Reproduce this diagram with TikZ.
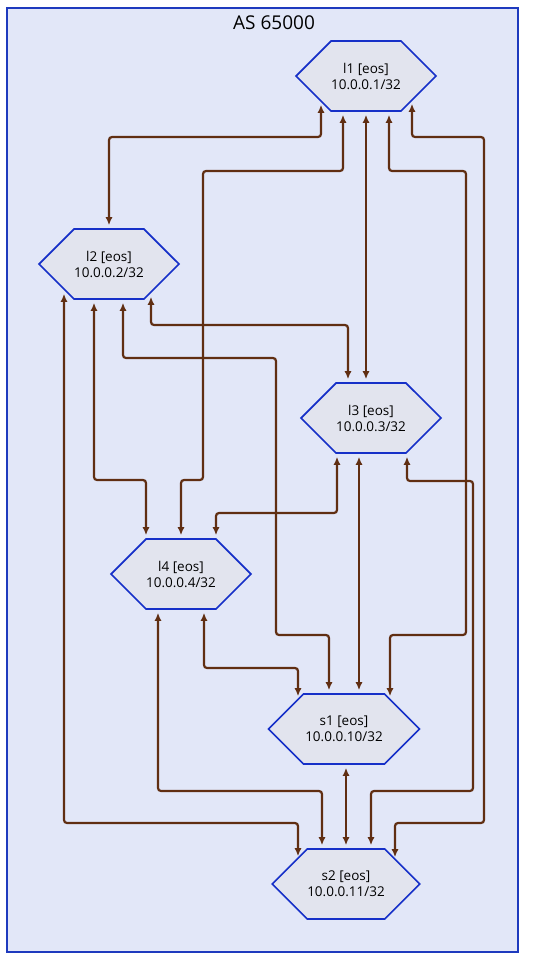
\documentclass[tikz,border=0pt]{standalone}
\usepackage{fontspec}
\setmainfont{Open Sans}
\usetikzlibrary{shapes.symbols,arrows.meta}
\definecolor{framefill}{RGB}{226,231,248}
\definecolor{frameblue}{RGB}{30,58,190}
\definecolor{hexfill}{RGB}{226,228,238}
\definecolor{hexblue}{RGB}{22,48,200}
\definecolor{linkbrown}{RGB}{96,46,18}
\tikzset{
  router/.style={signal,signal to=east and west,signal pointer angle=90,
    draw=hexblue,fill=hexfill,line width=1.6pt,minimum height=70pt,
    minimum width=139pt,inner sep=0pt,align=center,
    font=\fontsize{13.5}{16}\selectfont},
  link/.style={draw=linkbrown,line width=2.2pt,rounded corners=3pt,
    {Latex[length=8pt,width=7pt]}-{Latex[length=8pt,width=7pt]},
    shorten <=3pt,shorten >=3pt}
}
\begin{document}
\begin{tikzpicture}[x=1pt,y=-1pt]
\useasboundingbox (0,0) rectangle (546,959);
\draw[frameblue,fill=framefill,line width=1.4pt] (7,8) rectangle (518,952);
\node[font=\fontsize{19}{22}\selectfont] (title) at (274,23) {AS 65000};
% routers
\node[router] (l1) at (366,76) {l1 [eos]\\10.0.0.1/32};
\node[router] (l2) at (109,264) {l2 [eos]\\10.0.0.2/32};
\node[router] (l3) at (371,418) {l3 [eos]\\10.0.0.3/32};
\node[router] (l4) at (181,574) {l4 [eos]\\10.0.0.4/32};
\node[router,minimum width=151pt] (s1) at (344,729) {s1 [eos]\\10.0.0.10/32};
\node[router,minimum width=146pt] (s2) at (346,884) {s2 [eos]\\10.0.0.11/32};
% l1 links
\draw[link] ([xshift=-45pt,yshift=10pt]l1.south) |- (109,137) -- (l2.north);
\draw[link] ([xshift=-23pt]l1.south) |- (203,171) |- (181,480) -- (l4.north);
\draw[link] (l1.south) -- (l1.south |- l3.north);
\draw[link] ([xshift=23pt]l1.south) |- (466,171) |- (390,635) -- ([xshift=46pt,yshift=-6pt]s1.north);
\draw[link] ([xshift=46pt,yshift=11pt]l1.south) |- (484,137) |- (395,823) -- ([xshift=49pt,yshift=-12pt]s2.north);
% l2 links
\draw[link] ([xshift=-45pt,yshift=9pt]l2.south) |- (298,823) -- ([xshift=-48pt,yshift=-11pt]s2.north);
\draw[link] ([xshift=-15pt]l2.south) |- (146,480) -- ([xshift=-35pt]l4.north);
\draw[link] ([xshift=14pt]l2.south) |- (276,358) |- (329,635) -- ([xshift=-15pt]s1.north);
\draw[link] ([xshift=42pt,yshift=6pt]l2.south) |- (348,325) -- ([xshift=-23pt]l3.north);
% l3 links
\draw[link] ([xshift=-34pt]l3.south) |- (216,513) -- ([xshift=35pt]l4.north);
\draw[link] ([xshift=-12pt]l3.south) -- ([xshift=15pt]s1.north);
\draw[link] ([xshift=36pt]l3.south) |- (473,481) |- (371,791) -- ([xshift=25pt]s2.north);
% l4 links
\draw[link] ([xshift=-23pt]l4.south) |- (322,791) -- ([xshift=-24pt]s2.north);
\draw[link] ([xshift=23pt]l4.south) |- (298,668) -- ([xshift=-46pt,yshift=-6pt]s1.north);
% s1 -- s2
\draw[link] (s2.north |- s1.south) -- (s2.north);
\end{tikzpicture}
\end{document}
